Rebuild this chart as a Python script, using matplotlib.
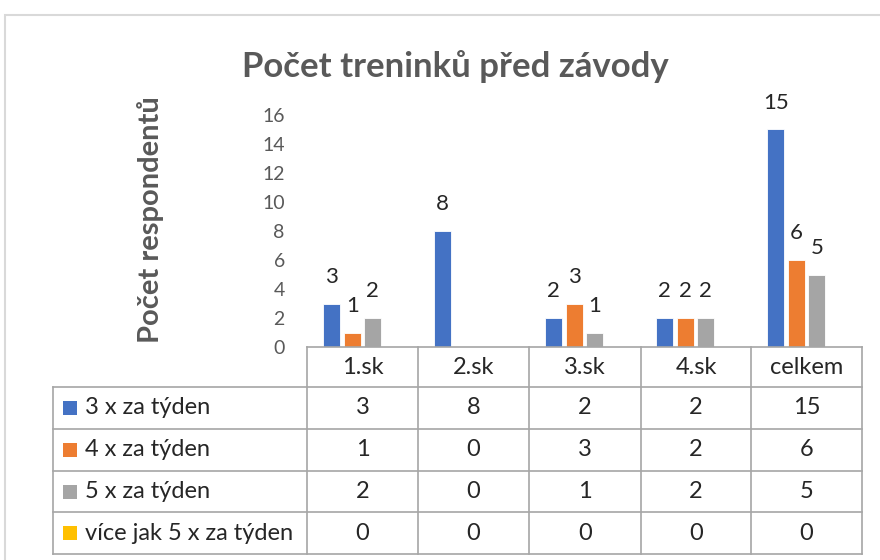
import matplotlib.pyplot as plt
from matplotlib.lines import Line2D
from matplotlib.patches import Rectangle
import numpy as np

plt.rcParams['font.family'] = ['Lato', 'DejaVu Sans']

#%% data
categories = ['1.sk', '2.sk', '3.sk', '4.sk', 'celkem']
series_names = ['3 x za týden', '4 x za týden', '5 x za týden', 'více jak 5 x za týden']
v3 = [3, 8, 2, 2, 15]
v4 = [1, 0, 3, 2, 6]
v5 = [2, 0, 1, 2, 5]
v_more = [0, 0, 0, 0, 0]
yticks = [0, 2, 4, 6, 8, 10, 12, 14, 16]

values = [v3, v4, v5, v_more]
colors = ['#4472C4', '#ED7D31', '#A5A5A5', '#FFC000']

W, H = 880, 560
fig = plt.figure(figsize=(W / 100, H / 100), dpi=100)

def fx(px):
    return px / W

def fy(py):
    return 1 - py / H

# chart border
fig.add_artist(Rectangle((fx(5), fy(575)), fx(890), 560 / H, transform=fig.transFigure,
                         fill=False, edgecolor='#d9d9d9', linewidth=1.5))

#%% bars
left, right, bottom, top = 307, 862, 347, 115
ax = fig.add_axes([fx(left), fy(bottom), fx(right - left), (bottom - top) / H])
x = np.arange(len(categories))
pitch = 0.185
width = 0.15
for i, (vals, c) in enumerate(zip(values, colors)):
    bars = ax.bar(x + (i - 1.5) * pitch, vals, width, color=c, edgecolor='white', linewidth=0.6)
    for b, v in zip(bars, vals):
        if v > 0:
            ax.annotate(str(v), (b.get_x() + b.get_width() / 2, v), xytext=(0, 12),
                        textcoords='offset points', ha='center', va='bottom',
                        fontsize=16, color='#262626')
ax.set_xlim(-0.5, len(categories) - 0.5)
ax.set_ylim(0, 16)
ax.set_yticks(yticks)
ax.tick_params(axis='y', length=0, labelsize=14, labelcolor='#595959', pad=16)
ax.set_xticks([])
for s in ax.spines.values():
    s.set_visible(False)
ax.patch.set_alpha(0)

fig.text(fx(455), fy(67), 'Počet treninků před závody', ha='center', va='center',
         fontsize=25, fontweight='bold', color='#595959')
fig.text(fx(150), fy(220), 'Počet respondentů', ha='center', va='center', rotation=90,
         fontsize=21, fontweight='bold', color='#595959')

#%% data table
grid = '#a6a6a6'
col_edges = [307, 418, 529, 641, 751, 862]
row_edges = [347, 387, 429, 471, 512, 554]
tbl_left = 53

def hline(y, x0, x1):
    fig.add_artist(Line2D([fx(x0), fx(x1)], [fy(y), fy(y)], color=grid, lw=1.2))

def vline(xp, y0, y1):
    fig.add_artist(Line2D([fx(xp), fx(xp)], [fy(y0), fy(y1)], color=grid, lw=1.2))

hline(row_edges[0], col_edges[0], col_edges[-1])
for y in row_edges[1:]:
    hline(y, tbl_left, col_edges[-1])
vline(tbl_left, row_edges[1], row_edges[-1])
for xp in col_edges:
    vline(xp, row_edges[0], row_edges[-1])

txt = dict(fontsize=17, color='#262626', va='center')
for j, cat in enumerate(categories):
    xc = (col_edges[j] + col_edges[j + 1]) / 2
    fig.text(fx(xc), fy((row_edges[0] + row_edges[1]) / 2), cat, ha='center', **txt)
for i, (name, vals, c) in enumerate(zip(series_names, values, colors)):
    yc = (row_edges[i + 1] + row_edges[i + 2]) / 2
    fig.add_artist(Rectangle((fx(63), fy(yc + 7)), fx(14), 14 / H, transform=fig.transFigure,
                             facecolor=c, edgecolor='none'))
    fig.text(fx(85), fy(yc), name, ha='left', **txt)
    for j, v in enumerate(vals):
        xc = (col_edges[j] + col_edges[j + 1]) / 2
        fig.text(fx(xc), fy(yc), str(v), ha='center', **txt)

fig.savefig('out.png', dpi=100)
